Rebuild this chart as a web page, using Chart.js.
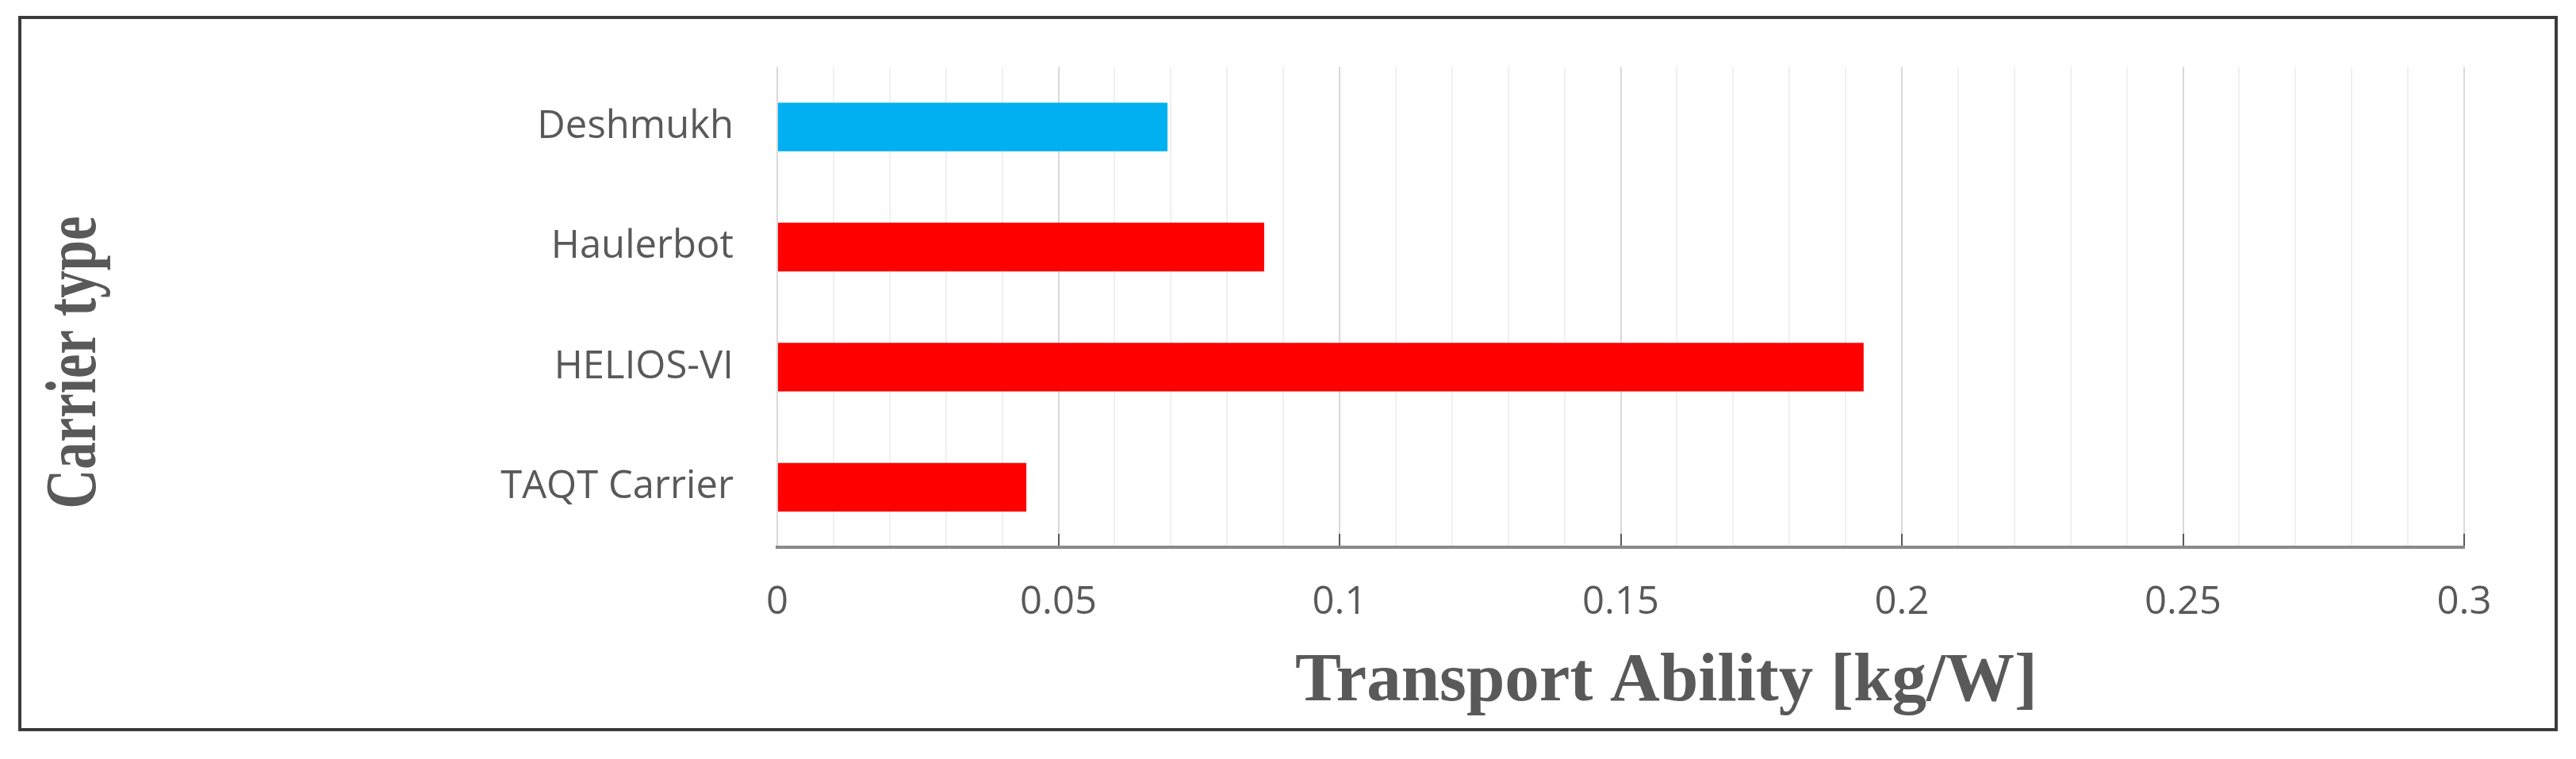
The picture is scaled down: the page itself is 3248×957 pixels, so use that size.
<!doctype html>
<html lang="en">
<head>
<meta charset="utf-8">
<script src="https://cdn.jsdelivr.net/npm/chart.js"></script>
<style>
  body { margin: 0; background: #fff; }
  #wrap { position: relative; width: 3248px; height: 957px; }
  #frame {
    position: absolute; left: 23px; top: 20px; width: 3202px; height: 902px;
    box-sizing: border-box; border: 4px solid #3b3b3b; pointer-events: none;
  }
</style>
</head>
<body>
<div id="wrap">
  <canvas id="myChart" width="3248" height="957"></canvas>
  <div id="frame"></div>
</div>

<script>
  // data
  const carriers = ['Deshmukh', 'Haulerbot', 'HELIOS-VI', 'TAQT Carrier'];
  const transportAbility = [0.0694, 0.0866, 0.1932, 0.0443];
  const tickLabels = ['0', '0.05', '0.1', '0.15', '0.2', '0.25', '0.3'];
  const xTitle = 'Transport Ability [kg/W]';
  const yTitle = 'Carrier type';

  const barColors = ['#00B0F0', '#FF0000', '#FF0000', '#FF0000'];
  const textGrey = '#595959';

  Chart.defaults.font.family = '"Open Sans", sans-serif';

  // axis titles are placed off-centre in the original, so draw them by hand
  const axisTitles = {
    id: 'axisTitles',
    afterDraw(chart) {
      const ctx = chart.ctx;
      ctx.save();
      ctx.fillStyle = textGrey;
      ctx.font = 'bold 87px "Liberation Serif"';
      ctx.textAlign = 'center';
      ctx.textBaseline = 'alphabetic';
      ctx.fillText(xTitle, 2101, 883);

      ctx.font = 'bold 90px "Liberation Serif"';
      var w = ctx.measureText(yTitle).width;
      ctx.translate(120, 457);
      ctx.rotate(-Math.PI / 2);
      ctx.scale(369 / w, 1);
      ctx.fillText(yTitle, 0, 0);
      ctx.restore();
    }
  };

  var canvas = document.getElementById('myChart');
  var chart = new Chart(canvas, {
    type: 'bar',
    data: {
      labels: carriers,
      datasets: [{
        data: transportAbility,
        backgroundColor: barColors,
        borderWidth: 0,
        barPercentage: 0.405,
        categoryPercentage: 1
      }]
    },
    options: {
      indexAxis: 'y',
      responsive: false,
      animation: false,
      devicePixelRatio: 1,
      layout: { padding: { top: 29, right: 141, bottom: 0, left: 0 } },
      plugins: {
        legend: { display: false },
        tooltip: { enabled: false }
      },
      scales: {
        x: {
          min: 0,
          max: 0.3,
          afterFit: function(scale) { scale.height = 267; },
          ticks: {
            stepSize: 0.01,
            autoSkip: false,
            maxRotation: 0,
            padding: 58,
            color: textGrey,
            font: { size: 49 },
            callback: function(v, i) { return i % 5 === 0 ? tickLabels[i / 5] : ''; }
          },
          grid: {
            color: function(c) { return c.index % 5 === 0 ? '#d9d9d9' : '#f0f0f0'; },
            lineWidth: 2,
            drawTicks: true,
            tickLength: -17,
            tickWidth: 2,
            tickColor: function(c) { return c.index % 5 === 0 && c.index > 0 ? '#595959' : 'rgba(0,0,0,0)'; }
          },
          border: { display: true, color: '#8a8a8a', width: 4 }
        },
        y: {
          afterFit: function(scale) { scale.width = 980; },
          ticks: {
            padding: 55,
            color: textGrey,
            font: { size: 49 }
          },
          grid: { display: false, drawTicks: false },
          border: { display: false }
        }
      }
    },
    plugins: [axisTitles]
  });
</script>
</body>
</html>
